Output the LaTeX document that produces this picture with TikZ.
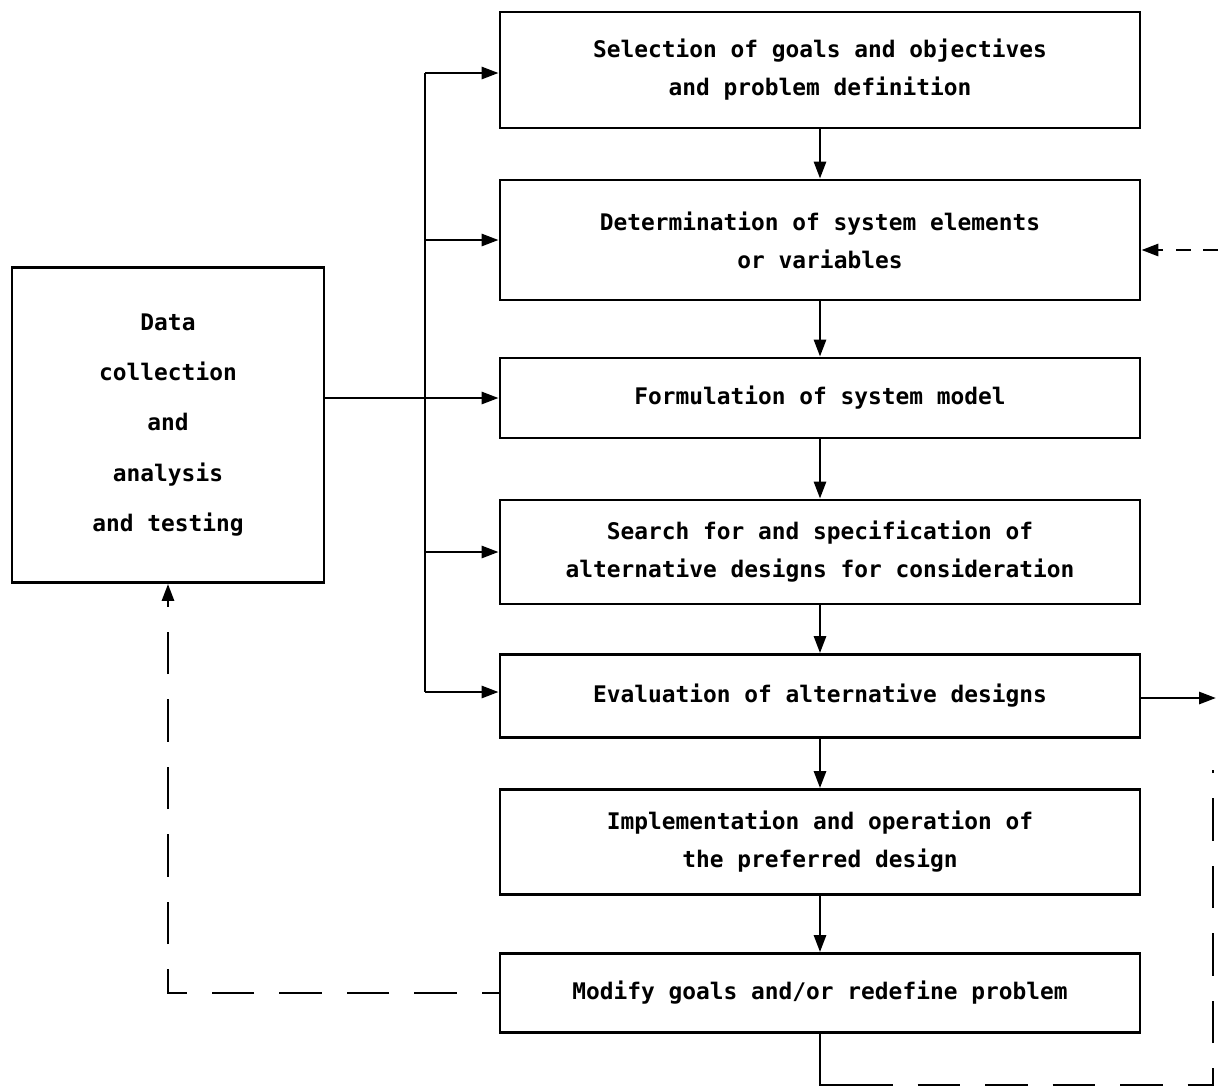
\documentclass[tikz,border=0pt]{standalone}
\usepackage{fontspec}
\setmainfont{DejaVu Sans Mono}
\usetikzlibrary{arrows.meta}

\begin{document}
\begin{tikzpicture}[x=0.2mm,y=-0.2mm,
    stage/.style={draw,line width=1.6pt,minimum width=12.8cm,inner sep=0pt,align=center,font=\fontsize{13}{21.6}\selectfont\bfseries},
    link/.style={line width=1.6pt},
    arr/.style={link,-{Triangle[length=3.4mm,width=2.4mm]}},
    fb/.style={link,dash pattern=on 0.85cm off 0.5cm}]
        \useasboundingbox (0,0) rectangle (1218,1089);
        % main chain
        \node[stage,minimum height=2.32cm] (goals) at (820,70) {Selection of goals and objectives\\and problem definition};
        \node[stage,minimum height=2.4cm] (elements) at (820,240) {Determination of system elements\\or variables};
        \node[stage,minimum height=1.6cm] (model) at (820,398) {Formulation of system model};
        \node[stage,minimum height=2.08cm] (search) at (820,552) {Search for and specification of\\alternative designs for consideration};
        \node[stage,minimum height=1.66cm] (evaluate) at (820,696) {Evaluation of alternative designs};
        \node[stage,minimum height=2.1cm] (implement) at (820,842) {Implementation and operation of\\the preferred design};
        \node[stage,minimum height=1.58cm] (modify) at (820,993) {Modify goals and/or redefine problem};
        \node[stage,minimum width=6.24cm,minimum height=6.3cm,font=\fontsize{13}{28.5}\selectfont\bfseries] (data) at (168,425) {Data\\collection\\and\\analysis\\and testing};

        \draw[arr] (goals) -- (elements);
        \draw[arr] (elements) -- (model);
        \draw[arr] (model) -- (search);
        \draw[arr] (search) -- (evaluate);
        \draw[arr] (evaluate) -- (implement);
        \draw[arr] (implement) -- (modify);

        % data feeds
        \coordinate (busTop) at (425,73);
        \coordinate (busBot) at (425,692);
        \draw[link] (busTop) -- (busBot);
        \draw[arr] (busTop) -- (busTop -| goals.west);
        \draw[arr] (busTop |- elements) -- (elements.west);
        \draw[arr] (busTop |- search) -- (search.west);
        \draw[arr] (busBot) -- (busBot -| evaluate.west);
        \draw[arr] (data.east |- model) -- (model.west);

        % feedback
        \draw[arr,fb,dash phase=0.51cm] (modify.west) -| (data.south);
        \coordinate (fbIn) at (1218,250);
        \draw[arr,dash pattern=on 0.3cm off 0.25cm] (fbIn) -- (fbIn -| elements.east);
        \coordinate (out) at (1216,698);
        \draw[arr] (evaluate.east |- out) -- (out);
        \coordinate (low) at (850,1085);
        \coordinate (corner) at (1213,1085);
        \coordinate (rise) at (1213,770);
        \draw[link] (modify.south) |- (low);
        \draw[fb] (low) -- (corner) -- (rise);
\end{tikzpicture}
\end{document}
